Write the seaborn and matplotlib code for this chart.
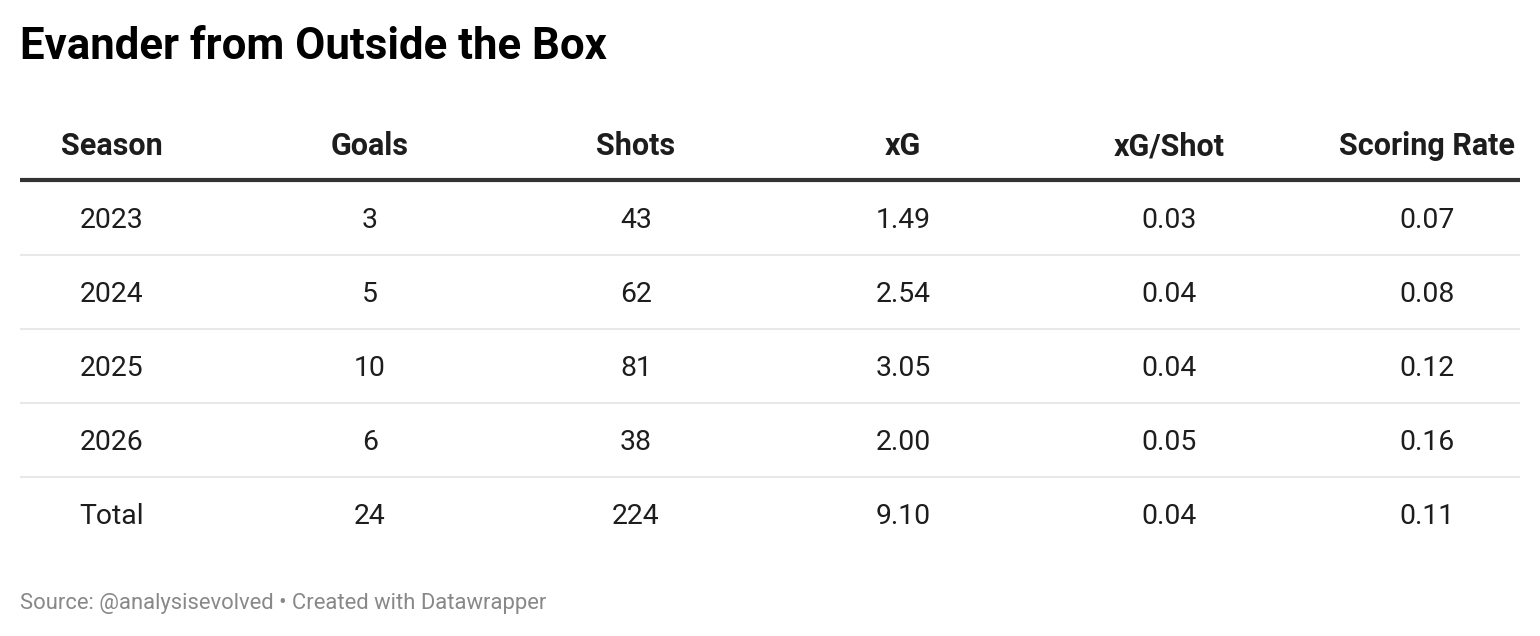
import seaborn as sns
import matplotlib.pyplot as plt

# Table data
columns = ["Season", "Goals", "Shots", "xG", "xG/Shot", "Scoring Rate"]
seasons = ["2023", "2024", "2025", "2026", "Total"]
goals = [3, 5, 10, 6, 24]
shots = [43, 62, 81, 38, 224]
xg = [1.49, 2.54, 3.05, 2.00, 9.10]
xg_per_shot = [0.03, 0.04, 0.04, 0.05, 0.04]
scoring_rate = [0.07, 0.08, 0.12, 0.16, 0.11]

sns.set_theme(style="white")
plt.rcParams["font.family"] = ["Roboto", "DejaVu Sans"]

fig = plt.figure(figsize=(15.4, 6.36), dpi=100)
ax = fig.add_axes([0, 0, 1, 1])
ax.set_xlim(0, 1540)
ax.set_ylim(636, 0)
ax.axis("off")

# layout in pixel coordinates (baselines)
col_x = [112, 370, 636, 903, 1169, 1427]
header_base = 155
row_base0 = 228
row_h = 74

fig.text(20 / 1540, 1 - 47 / 636, "Evander from Outside the Box",
         fontsize=31.5, fontweight="bold", color="#000000", va="center", ha="left")

for x, name in zip(col_x, columns):
    ax.text(x, header_base, name, fontsize=22, fontweight="bold",
            color="#1d1d1d", ha="center", va="baseline")

ax.hlines(180, 20, 1520, color="#333333", linewidth=3)

rows = list(zip(seasons, goals, shots, xg, xg_per_shot, scoring_rate))
for i, (s, g, sh, x_g, xps, sr) in enumerate(rows):
    y = row_base0 + i * row_h
    cells = [s, str(g), str(sh), f"{x_g:.2f}", f"{xps:.2f}", f"{sr:.2f}"]
    for x, c in zip(col_x, cells):
        ax.text(x, y, c, fontsize=20.4, color="#1d1d1d", ha="center", va="baseline")
    if i < len(rows) - 1:
        ax.hlines(255 + i * row_h, 20, 1520, color="#e8e8e8", linewidth=1.5)

fig.text(20 / 1540, 1 - 604 / 636,
         "Source: @analysisevolved \u2022 Created with Datawrapper",
         fontsize=15.8, color="#888888", va="center", ha="left")

plt.savefig("out.png", dpi=100)
